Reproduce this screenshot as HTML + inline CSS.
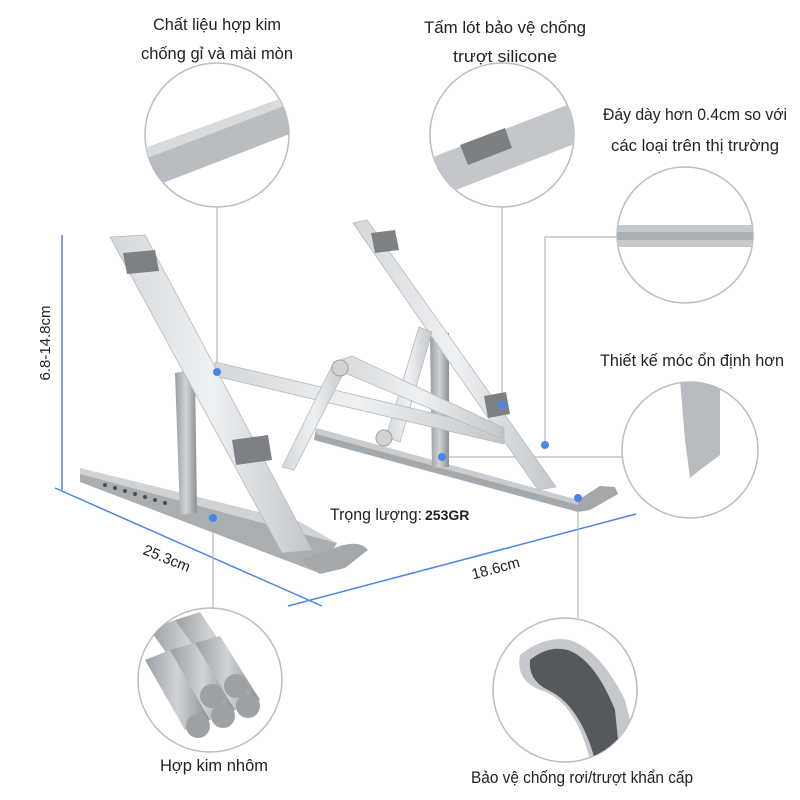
<!DOCTYPE html>
<html><head><meta charset="utf-8"><style>
body{margin:0;background:#fff}
svg{display:block}
text{font-family:"Liberation Sans","DejaVu Sans",sans-serif;fill:#222}
</style></head><body>
<svg width="800" height="800" viewBox="0 0 800 800" xmlns="http://www.w3.org/2000/svg">
<defs>
<linearGradient id="al" x1="0" y1="0" x2="1" y2="0"><stop offset="0" stop-color="#d5d8db"/><stop offset="0.5" stop-color="#eef0f2"/><stop offset="1" stop-color="#c2c6ca"/></linearGradient>
<linearGradient id="dk" x1="0" y1="0" x2="1" y2="0"><stop offset="0" stop-color="#9a9fa4"/><stop offset="0.5" stop-color="#d0d3d6"/><stop offset="1" stop-color="#8a8f94"/></linearGradient>
<clipPath id="c1"><circle cx="217" cy="135" r="72"/></clipPath>
<clipPath id="c2"><circle cx="502" cy="135" r="72"/></clipPath>
<clipPath id="c3"><circle cx="685" cy="235" r="68"/></clipPath>
<clipPath id="c4"><circle cx="690" cy="450" r="68"/></clipPath>
<clipPath id="c5"><circle cx="210" cy="680" r="72"/></clipPath>
<clipPath id="c6"><circle cx="565" cy="690" r="72"/></clipPath>
</defs>

<g stroke="#4a86e8" stroke-width="1.5" fill="none">
<line x1="62" y1="235" x2="62" y2="490"/>
<line x1="55" y1="488" x2="322" y2="606"/>
<line x1="288" y1="606" x2="636" y2="514"/>
</g>

<g stroke="#b8b8b8" stroke-width="1.2" fill="none">
<line x1="217" y1="207" x2="217" y2="372"/>
<line x1="502" y1="207" x2="502" y2="405"/>
<polyline points="545,445 545,237 617,237"/>
<line x1="442" y1="457" x2="622" y2="457"/>
<line x1="578" y1="498" x2="578" y2="618"/>
<line x1="213" y1="518" x2="213" y2="608"/>
</g>

<g stroke="#bdbdbd" stroke-width="1.5">
<circle cx="217" cy="135" r="72" fill="#fff"/>
<circle cx="502" cy="135" r="72" fill="#fff"/>
<circle cx="685" cy="235" r="68" fill="#fff"/>
<circle cx="690" cy="450" r="68" fill="#fff"/>
<circle cx="210" cy="680" r="72" fill="#fff"/>
<circle cx="565" cy="690" r="72" fill="#fff"/>
</g>
<g clip-path="url(#c1)"><polygon points="140,150 290,95 300,130 145,190" fill="#b9bdc1"/><polygon points="140,150 290,95 292,103 142,160" fill="#d8dbde"/></g>
<g clip-path="url(#c2)"><polygon points="425,160 580,100 585,140 430,200" fill="#c3c7cb"/><polygon points="460,145 505,128 512,148 468,165" fill="#7c8085"/></g>
<g clip-path="url(#c3)"><rect x="610" y="225" width="150" height="22" fill="#c4c9ce"/><rect x="610" y="232" width="150" height="8" fill="#a9aeb3"/></g>
<g clip-path="url(#c4)"><polygon points="680,380 720,380 720,455 700,470 690,478 685,440" fill="#b8bcc0"/></g>
<g clip-path="url(#c5)">
<g fill="url(#dk)">
<polygon points="150,630 175,620 225,690 200,700"/>
<polygon points="175,620 200,612 245,680 225,690"/>
<polygon points="145,660 170,650 210,720 185,730"/>
<polygon points="170,650 195,643 235,710 210,720"/>
<polygon points="195,643 220,636 260,700 235,710"/>
</g>
<g fill="#9ca1a6"><circle cx="212" cy="696" r="12"/><circle cx="236" cy="686" r="12"/><circle cx="198" cy="726" r="12"/><circle cx="223" cy="716" r="12"/><circle cx="248" cy="706" r="12"/></g>
</g>
<g clip-path="url(#c6)">
<path d="M520,655 Q545,635 570,640 Q600,650 625,700 L640,760 L590,760 Q575,700 540,690 Q515,680 520,655 Z" fill="#c5c9cd"/>
<path d="M530,660 Q548,645 568,650 Q595,660 615,710 L620,760 L595,760 Q580,705 548,690 Q528,680 530,660 Z" fill="#55595e"/>
</g>

<!-- back base -->
<polygon points="316,428 578,500 600,486 615,487 618,494 590,510 578,512 314,440" fill="#a3a8ad"/>
<polygon points="316,428 578,500 578,505 316,434" fill="#c9cdd1"/>
<!-- right support -->
<polygon points="430,337 449,333 449,467 432,468" fill="url(#dk)"/>
<!-- back leg -->
<polygon points="353,223 367,220 556,487 538,490" fill="url(#al)" stroke="#b5b9bd" stroke-width="0.8"/>
<polygon points="371,233 395,230 399,250 375,253" fill="#7d8186"/>
<polygon points="484,396 506,392 510,414 488,418" fill="#7d8186"/>
<polygon points="386,437 419,327 432,332 400,442" fill="url(#al)" stroke="#b5b9bd" stroke-width="0.8"/>
<!-- front base -->
<polygon points="80,472 337,543 319,573 80,482" fill="#a9aeb3"/>
<polygon points="80,468 300,522 337,543 80,474" fill="#d0d3d6"/>
<g fill="#4a4e53"><circle cx="105" cy="485" r="2"/><circle cx="115" cy="488" r="2"/><circle cx="125" cy="491" r="2"/><circle cx="135" cy="494" r="2"/><circle cx="145" cy="497" r="2"/><circle cx="155" cy="500" r="2"/><circle cx="165" cy="503" r="2"/></g>
<path d="M300,560 L340,546 Q360,540 368,550 L345,568 L320,574 Z" fill="#a3a8ad"/>
<!-- left support -->
<polygon points="175,373 195,369 197,513 180,515" fill="url(#dk)"/>
<!-- cross bars -->
<polygon points="215,362 504,430 504,444 215,376" fill="url(#al)" stroke="#b5b9bd" stroke-width="0.8"/>
<polygon points="282,467 334,362 346,368 294,470" fill="url(#al)" stroke="#b5b9bd" stroke-width="0.8"/>
<polygon points="334,362 352,356 504,428 500,438 345,373" fill="url(#al)" stroke="#b5b9bd" stroke-width="0.8"/>
<!-- front leg -->
<polygon points="110,237 145,235 312,550 282,553" fill="url(#al)" stroke="#b5b9bd" stroke-width="0.8"/>
<polygon points="123,253 155,250 159,271 127,274" fill="#7d8186"/>
<polygon points="232,440 268,435 272,460 236,465" fill="#7d8186"/>
<circle cx="340" cy="368" r="8" fill="#d0d3d6" stroke="#9ca0a4"/>
<circle cx="384" cy="438" r="8" fill="#d0d3d6" stroke="#9ca0a4"/>

<g fill="#4a86e8"><circle cx="217" cy="372" r="4"/><circle cx="213" cy="518" r="4"/><circle cx="502" cy="405" r="4"/><circle cx="545" cy="445" r="4"/><circle cx="442" cy="457" r="4"/><circle cx="578" cy="498" r="4"/></g>

<g font-size="17" text-anchor="middle">
<text x="217" y="30" textLength="128" lengthAdjust="spacingAndGlyphs">Chất liệu hợp kim</text>
<text x="217" y="59" textLength="152" lengthAdjust="spacingAndGlyphs">chống gỉ và mài mòn</text>
<text x="505" y="33" textLength="162" lengthAdjust="spacingAndGlyphs">Tấm lót bảo vệ chống</text>
<text x="505" y="62" textLength="104" lengthAdjust="spacingAndGlyphs">trượt silicone</text>
<text x="695" y="120" textLength="184" lengthAdjust="spacingAndGlyphs">Đáy dày hơn 0.4cm so với</text>
<text x="695" y="151" textLength="168" lengthAdjust="spacingAndGlyphs">các loại trên thị trường</text>
<text x="692" y="366" textLength="184" lengthAdjust="spacingAndGlyphs">Thiết kế móc ổn định hơn</text>
<text x="214" y="771" textLength="108" lengthAdjust="spacingAndGlyphs">Hợp kim nhôm</text>
<text x="582" y="783" textLength="222" lengthAdjust="spacingAndGlyphs">Bảo vệ chống rơi/trượt khẩn cấp</text>
</g>
<text x="330" y="520" font-size="17" textLength="92" lengthAdjust="spacingAndGlyphs">Trọng lượng:</text>
<text x="425" y="520" font-size="14" font-weight="bold">253GR</text>
<text x="165" y="563" font-size="15" text-anchor="middle" transform="rotate(22 165 563)">25.3cm</text>
<text x="497" y="573" font-size="15" text-anchor="middle" transform="rotate(-15 497 573)">18.6cm</text>
<text x="50" y="343" font-size="15" text-anchor="middle" transform="rotate(-90 50 343)">6.8-14.8cm</text>
</svg>
</body></html>
